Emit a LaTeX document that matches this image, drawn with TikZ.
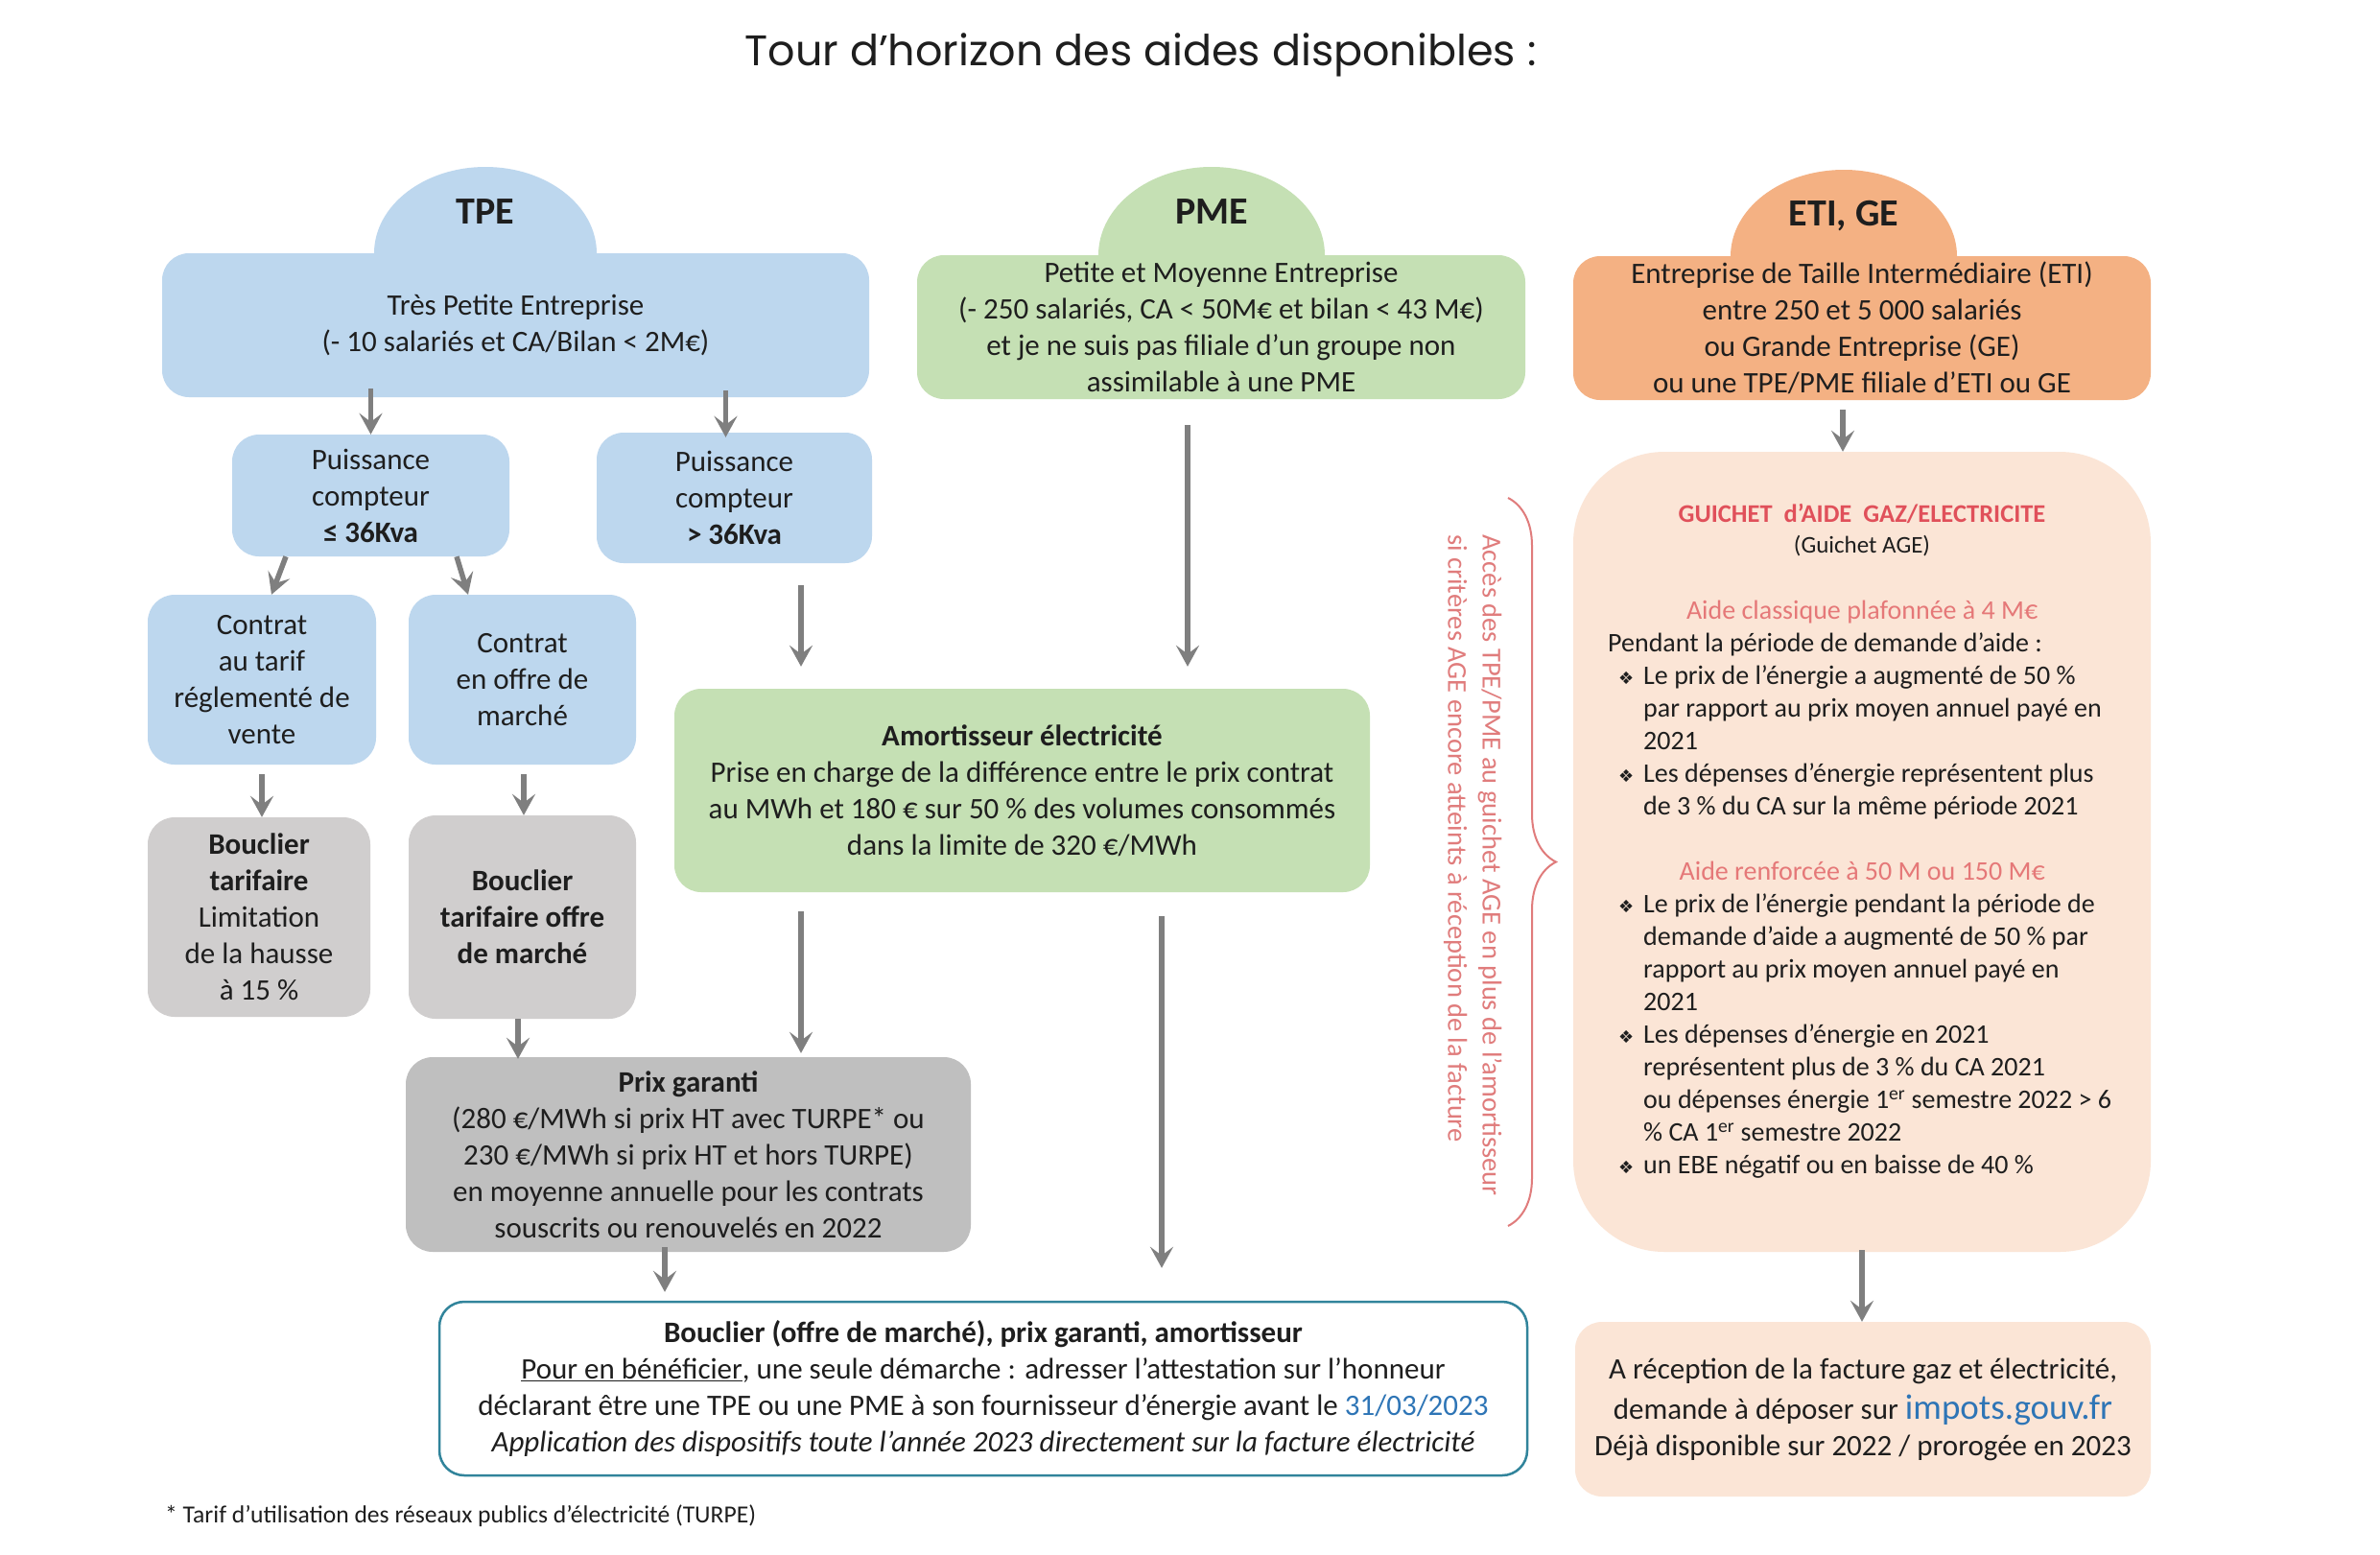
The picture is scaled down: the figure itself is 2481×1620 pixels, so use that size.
\documentclass[tikz,border=0pt]{standalone}
\usepackage{fontspec}
\setmainfont{Carlito}
\newfontfamily\titlefont{Poppins}
\newfontfamily\symfont{DejaVu Sans}
\usetikzlibrary{arrows.meta,shapes.geometric,decorations.pathreplacing}
\definecolor{cblue}{HTML}{BDD7EE}
\definecolor{cgreen}{HTML}{C5E0B4}
\definecolor{corange}{HTML}{F4B183}
\definecolor{cpeach}{HTML}{FBE5D6}
\definecolor{cgray}{HTML}{D0CECE}
\definecolor{cgrayd}{HTML}{BFBFBF}
\definecolor{carrow}{HTML}{7F7F7F}
\definecolor{ctext}{HTML}{1E1E1E}
\definecolor{cred}{HTML}{E0505A}
\definecolor{cpink}{HTML}{E57878}
\definecolor{crot}{HTML}{E07C7C}
\definecolor{clink}{HTML}{2E75B6}
\definecolor{cteal}{HTML}{31849B}
\newcommand\bodyfont{\fontsize{31}{38}\selectfont}
\newcommand\smallbody{\fontsize{28}{34}\selectfont}
\newcommand\domefont{\fontsize{40}{48}\selectfont\bfseries}
\newcommand\bul{\hspace*{11pt}\makebox[26pt][l]{\symfont\fontsize{18}{20}\selectfont ❖}}
\newcommand\ind{\hspace*{37pt}}
\newcommand\ctr[1]{\makebox[530pt][c]{#1}}
\begin{document}
\begin{tikzpicture}[x=1pt,y=-1pt,
  box/.style={rounded corners=28pt, align=center, inner sep=0pt, text=ctext, font=\bodyfont},
  dome/.style={ellipse, inner sep=0pt},
  arr/.style={draw=carrow, line width=5.5pt, -{Stealth[length=22pt,width=24pt,inset=9pt]}},
  lbl/.style={font=\domefont, text=ctext, inner sep=0pt}
]
\useasboundingbox (0,0) rectangle (2481,1620);
\fill[white] (0,0) rectangle (2481,1620);

% title
\node[font=\titlefont\fontsize{44.5}{52}\selectfont, text=ctext, inner sep=0pt] (title) at (1189,57) {Tour d’horizon des aides disponibles :};

% domes
\node[dome, fill=cblue, minimum width=232pt, minimum height=180pt] (tpedome) at (506,264) {};
\node[dome, fill=cgreen, minimum width=236pt, minimum height=184pt] (pmedome) at (1263,266) {};
\node[dome, fill=corange, minimum width=236pt, minimum height=180pt] (etidome) at (1922,267) {};

% top boxes
\node[box, fill=cblue, minimum width=737pt, minimum height=150pt] (tpe) at (537.5,339)
  {Très Petite Entreprise\\(- 10 salariés et CA/Bilan < 2M€)};
\node[box, fill=cgreen, minimum width=634pt, minimum height=150pt] (pme) at (1273,341)
  {Petite et Moyenne Entreprise\\(- 250  salariés, CA < 50M€  et bilan < 43 M€)\\et je ne suis pas filiale d’un groupe non\\assimilable à une PME};
\node[box, fill=corange, minimum width=602pt, minimum height=150pt] (eti) at (1941,342)
  {Entreprise de Taille Intermédiaire (ETI)\\entre 250  et 5 000 salariés\\ou Grande Entreprise (GE)\\ou une TPE/PME filiale d’ETI ou GE};

\node[lbl] (tpelbl) at (506,221) {TPE};
\node[lbl] (pmelbl) at (1263,221) {PME};
\node[lbl] (etilbl) at (1922,225) {ETI, GE};

% TPE branch
\node[box, fill=cblue, minimum width=289pt, minimum height=127pt] (p1) at (386.5,516.5)
  {Puissance\\compteur\\\textbf{≤ 36Kva}};
\node[box, fill=cblue, minimum width=287pt, minimum height=136pt] (p2) at (765.5,519)
  {Puissance\\compteur\\\textbf{> 36Kva}};
\node[box, fill=cblue, minimum width=238pt, minimum height=177pt] (ct1) at (273,708.5)
  {Contrat\\au tarif\\réglementé de\\vente};
\node[box, fill=cblue, minimum width=237pt, minimum height=177pt] (ct2) at (544.5,708.5)
  {Contrat\\en offre de\\marché};
\node[box, fill=cgray, minimum width=232pt, minimum height=208pt] (bt1) at (270,956)
  {\textbf{Bouclier}\\\textbf{tarifaire}\\Limitation\\de la hausse\\à 15  \%};
\node[box, fill=cgray, minimum width=237pt, minimum height=212pt] (bt2) at (544.5,956)
  {\textbf{Bouclier}\\\textbf{tarifaire offre}\\\textbf{de marché}};
\node[box, fill=cgrayd, minimum width=589pt, minimum height=203pt] (prix) at (717.5,1203.5)
  {\textbf{Prix garanti}\\(280 €/MWh  si prix HT avec TURPE* ou\\230  €/MWh si prix HT et hors TURPE)\\en moyenne annuelle pour les contrats\\souscrits ou renouvelés en 2022};
\node[box, fill=cgreen, minimum width=725pt, minimum height=212pt] (amort) at (1065.5,824)
  {\textbf{Amortisseur électricité}\\Prise en charge de la différence entre le prix contrat\\au MWh  et 180 € sur 50  \% des volumes consommés\\dans la limite de 320 €/MWh};

% bottom box
\node[box, fill=white, draw=cteal, line width=2.5pt, rounded corners=26pt, minimum width=1134pt, minimum height=181pt] (bottom) at (1025,1447.5)
  {\textbf{Bouclier (offre de marché), prix garanti, amortisseur}\\\underline{Pour en bénéficier}, une seule démarche : adresser l’attestation sur l’honneur\\déclarant être une TPE ou une PME à  son fournisseur d’énergie avant le \textcolor{clink}{31/03/2023}\\\textit{Application des dispositifs toute l’année 2023  directement sur la facture électricité}};

% guichet
\node[box, rounded corners=95pt, fill=cpeach, minimum width=602pt, minimum height=834pt] (guichet) at (1941,888) {};
\node[align=center, inner sep=0pt, text=ctext, font=\fontsize{26.5}{32}\selectfont] (gtitle) at (1941,553)
  {{\color{cred}\bfseries GUICHET~~d’AIDE~~GAZ/ELECTRICITE}\\{\fontsize{25}{32}\selectfont(Guichet AGE)}};
\node[anchor=west, align=left, inner sep=0pt, text=ctext, font=\smallbody] (glist) at (1676,927.5)
  {\ctr{\color{cpink}Aide classique plafonnée à 4 M€}\\
   Pendant la période de demande d’aide :\\
   \bul Le prix de l’énergie a augmenté  de 50 \%\\
   \ind par rapport au prix moyen  annuel payé en\\
   \ind 2021\\
   \bul Les dépenses d’énergie représentent plus\\
   \ind de 3 \% du CA sur la même  période 2021\\[34pt]
   \ctr{\color{cpink}Aide renforcée à 50 M  ou 150 M€}\\
   \bul Le prix de l’énergie pendant la période de\\
   \ind demande d’aide a augmenté  de 50 \% par\\
   \ind rapport au prix moyen annuel payé en\\
   \ind 2021\\
   \bul Les dépenses d’énergie en 2021\\
   \ind représentent  plus de 3 \% du CA 2021\\
   \ind ou dépenses énergie 1\textsuperscript{er} semestre 2022 > 6\\
   \ind \% CA 1\textsuperscript{er} semestre 2022\\
   \bul un EBE négatif ou en baisse de 40 \%};

\node[box, fill=cpeach, minimum width=600pt, minimum height=182pt] (facture) at (1942,1469)
  {A réception de la facture gaz et électricité,\\[4pt]demande à déposer sur {\fontsize{37}{40}\selectfont\color{clink}impots.gouv.fr}\\Déjà disponible sur 2022  / prorogée en 2023};

% brace and rotated note
\draw[decorate, decoration={brace, amplitude=50pt}, draw=crot, line width=2pt] (1572,519) -- (1572,1278);
\node[rotate=-90, anchor=north west, align=left, inner sep=0pt, text=crot, font=\fontsize{28.5}{36}\selectfont] (note) at (1566,557)
  {Accès des TPE/PME au guichet AGE en plus de l’amortisseur\\si critères AGE encore atteints à réception de la facture};

% footnote
\node[anchor=west, inner sep=0pt, text=ctext, font=\fontsize{25.6}{28}\selectfont] (foot) at (172,1580)
  {* Tarif d'utilisation des réseaux publics d'électricité (TURPE)};

% arrows
\coordinate (a2s) at ([xshift=-9pt]p2.north);
\coordinate (a6s) at ([xshift=1.5pt]ct2.south);
\coordinate (a7s) at ([xshift=-4.5pt]bt2.south);
\coordinate (a8s) at ([xshift=69.5pt]p2.south);
\coordinate (a9s) at ([xshift=-35pt]pme.south);
\coordinate (a10s) at ([xshift=-230.5pt]amort.south);
\coordinate (a11s) at ([xshift=145.5pt]amort.south);
\coordinate (a12s) at ([xshift=-24.5pt]prix.south);
\coordinate (a13s) at ([xshift=-20pt]eti.south);

\draw[arr, shorten <=-9pt] (tpe.south -| p1.north) -- (p1.north);
\draw[arr, shorten <=-7pt, shorten >=-5pt] (a2s |- tpe.south) -- (a2s);
\draw[arr] ([xshift=-88.5pt]p1.south) -- ([xshift=10pt]ct1.north);
\draw[arr] ([xshift=89.5pt]p1.south) -- ([xshift=-56.5pt]ct2.north);
\draw[arr, shorten <=10pt] (ct1.south) -- (ct1.south |- bt1.north);
\draw[arr, shorten <=10pt] (a6s) -- (a6s |- bt2.north);
\draw[arr, shorten >=-2pt] (a7s) -- (a7s |- prix.north);
\draw[arr, shorten <=23pt, shorten >=23pt] (a8s) -- (a8s |- amort.north);
\draw[arr, shorten <=27pt, shorten >=23pt] (a9s) -- (a9s |- amort.north);
\draw[arr, shorten <=20pt, shorten >=4pt] (a10s) -- (a10s |- prix.north);
\draw[arr, shorten <=25pt, shorten >=34pt] (a11s) -- (a11s |- bottom.north);
\draw[arr, shorten <=-5pt, shorten >=9pt] (a12s) -- (a12s |- bottom.north);
\draw[arr, shorten <=10pt] (a13s) -- (a13s |- guichet.north);
\draw[arr, shorten <=-2pt] (guichet.south) -- (guichet.south |- facture.north);
\end{tikzpicture}
\end{document}
